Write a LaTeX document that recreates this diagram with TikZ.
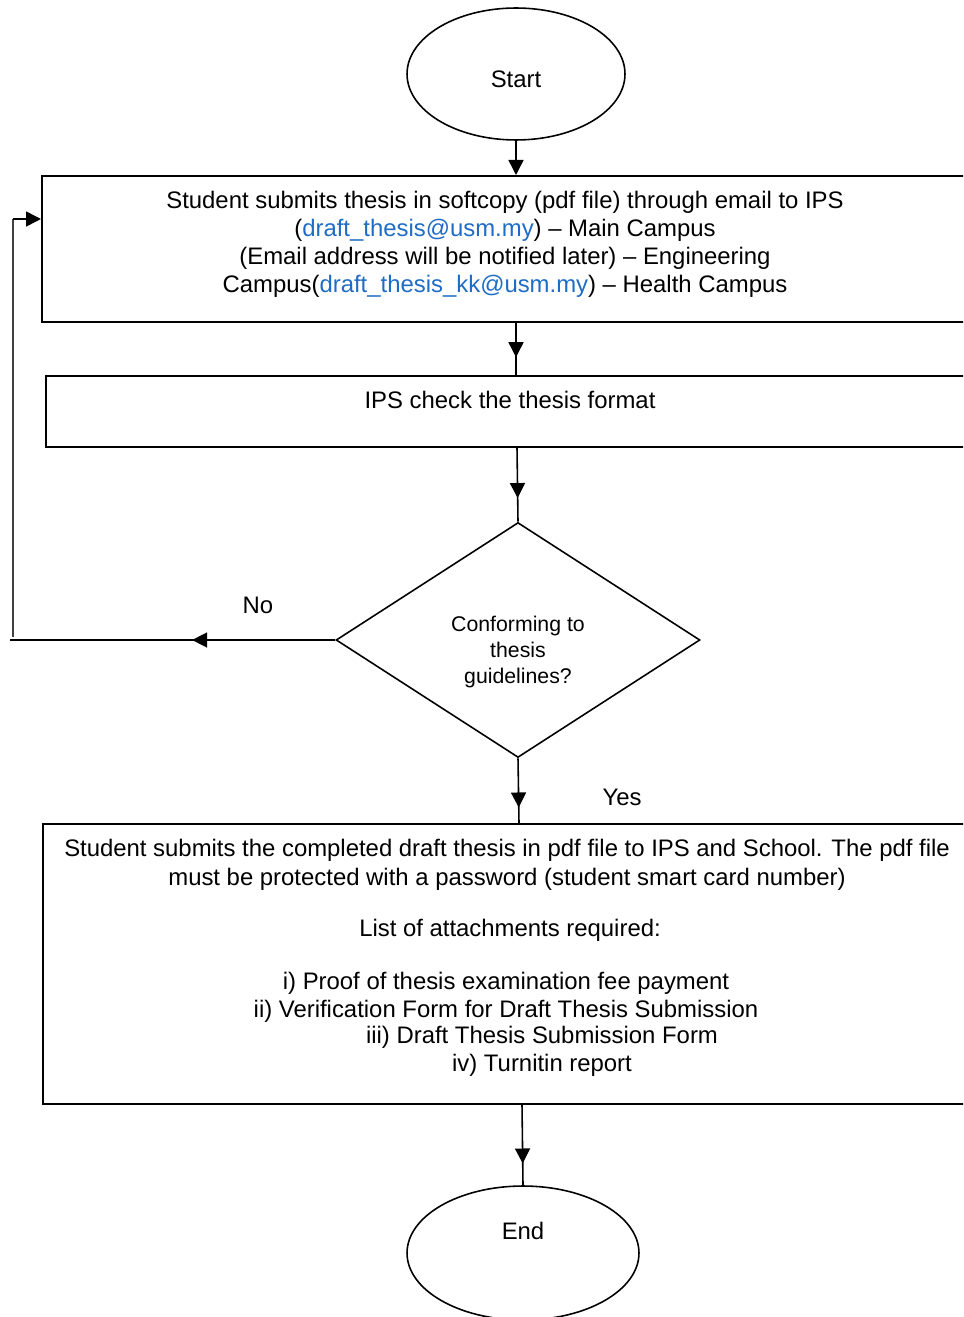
\documentclass[tikz,border=0pt]{standalone}
\usepackage{fontspec}
\setmainfont{Liberation Sans}
\usetikzlibrary{arrows.meta,shapes.geometric,decorations.markings}
\definecolor{linkblue}{RGB}{31,108,197}
\tikzset{
  boxshape/.style={draw, line width=1pt, rectangle, anchor=north west, inner sep=0pt},
  ovalshape/.style={draw, line width=0.9pt, ellipse, inner sep=0pt},
  txt/.style={font=\fontsize{13.6}{15.9}\selectfont, align=center, inner sep=0pt},
  conn/.style={line width=0.9pt},
  tipmid/.style={postaction={decorate}, decoration={markings, mark=at position #1 with {\arrow{Triangle[length=0.3cm,width=0.3cm]}}}},
  tipend/.style={-{Triangle[length=0.3cm,width=0.3cm]}}
}
\begin{document}
\begin{tikzpicture}[x=0.02cm,y=-0.02cm]
\useasboundingbox (0,0) rectangle (963,1317);
\clip (0,0) rectangle (963,1317);
% shapes
\node[ovalshape, minimum width=4.36cm, minimum height=2.64cm] (start) at (516,74) {};
\node[txt] (starttxt) at (516,79) {Start};
\node[boxshape, minimum width=18.8cm, minimum height=2.92cm] (b1) at (41,175) {};
\node[txt] (b1txt) at (505,244) {Student submits thesis in softcopy (pdf file) through email to IPS\\
(\textcolor{linkblue}{draft\_thesis@usm.my}) -- Main Campus\\
(Email address will be notified later) -- Engineering\\
Campus(\textcolor{linkblue}{draft\_thesis\_kk@usm.my}) -- Health Campus};
\node[boxshape, minimum width=18.8cm, minimum height=1.42cm] (b2) at (45,375) {};
\node[txt] (b2txt) at (510,400) {IPS check the thesis format};
\node[draw, line width=0.9pt, diamond, inner sep=0pt, minimum width=7.28cm, minimum height=4.7cm] (d) at (518,640) {};
\node[txt, font=\fontsize{12.1}{15}\selectfont] (dtxt) at (518,652) {Conforming to\\ thesis\\ guidelines?};
\node[boxshape, minimum width=18.8cm, minimum height=5.6cm] (b3) at (42,823) {};
\node[txt, font=\fontsize{13.6}{16.4}\selectfont] (b3a) at (507,865) {Student submits the completed draft thesis in pdf file to IPS and School. The pdf file\\ must be protected with a password (student smart card number)};
\node[txt] (b3b) at (510,930) {List of attachments required:};
\node[txt] (b3c) at (506,997) {i) Proof of thesis examination fee payment\\ ii) Verification Form for Draft Thesis Submission};
\node[txt] (b3d) at (542,1037) {iii) Draft Thesis Submission Form};
\node[txt] (b3e) at (542,1065) {iv) Turnitin report};
\node[ovalshape, minimum width=4.64cm, minimum height=2.68cm] (end) at (523,1253) {};
\node[txt] (endtxt) at (523,1231) {End};
\node[txt] (no) at (258,605) {No};
\node[txt] (yes) at (622,797) {Yes};
% connectors
\coordinate (nleft) at (10,640);
\coordinate (vbot) at (13,637);
\coordinate (vtop) at (13,219);
\draw[conn, tipend] (start.south) -- (start.south |- b1.north);
\draw[conn, tipmid=0.66] (b1.south -| 516,0) -- (b2.north -| 516,0);
\draw[conn, tipmid=0.68] (b2.south -| 517,0) -- (d.north);
\draw[conn, tipmid=0.76] (d.south) -- (b3.north -| 519,0);
\draw[conn, tipmid=0.73] (b3.south -| 522,0) -- (end.north);
\draw[conn, tipmid=0.44] (d.west) -- (nleft);
\draw[line width=0.7pt, black!75] (vbot) -- (vtop);
\draw[conn, tipend] (vtop) -- (vtop -| b1.west);
\end{tikzpicture}
\end{document}
